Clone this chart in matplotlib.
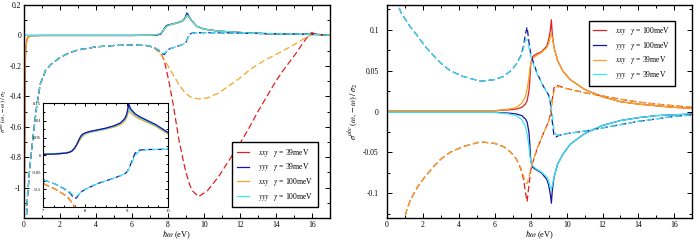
import matplotlib
matplotlib.use('Agg')
import matplotlib.pyplot as plt
from matplotlib.ticker import MultipleLocator

plt.rcParams['font.family'] = ['Liberation Serif', 'DejaVu Serif']
plt.rcParams['mathtext.fontset'] = 'stix'

# ---------------- left panel, main curves ----------------
xs = [0, 0.03, 0.05, 0.08, 0.1, 0.15, 0.2, 0.3, 0.45, 1, 3, 6, 7, 7.4, 7.6, 7.7, 7.8, 7.9,
      8.0, 8.2, 8.5, 8.8, 8.95, 9.05, 9.15, 9.3, 9.6, 10, 10.7, 11.5, 12.5, 14, 15.5, 15.9,
      16.0, 16.1, 16.4, 17]
xxy39_re = [-1.4, -0.9, -0.4, -0.15, -0.08, -0.03, -0.015, -0.006, -0.002, 0, 0, 0, 0.001, 0.003,
            0.01, 0.025, 0.045, 0.062, 0.068, 0.074, 0.082, 0.095, 0.112, 0.14, 0.125, 0.098,
            0.06, 0.042, 0.03, 0.023, 0.016, 0.01, 0.007, 0.012, 0.02, 0.012, 0.005, 0.003]
yyy39_re = [0, 0, 0, 0, 0, 0, 0, 0, 0, 0, 0, 0, 0.001, 0.003, 0.01, 0.025, 0.045, 0.062,
            0.068, 0.074, 0.082, 0.095, 0.115, 0.148, 0.13, 0.1, 0.06, 0.042, 0.03, 0.023,
            0.016, 0.01, 0.007, 0.01, 0.016, 0.01, 0.005, 0.003]
xxy100_re = [-1.4, -0.8, -0.35, -0.13, -0.08, -0.04, -0.02, -0.008, -0.002, 0, 0, 0, 0.002,
             0.006, 0.015, 0.025, 0.04, 0.055, 0.063, 0.072, 0.08, 0.092, 0.108, 0.128, 0.122,
             0.098, 0.06, 0.042, 0.03, 0.023, 0.016, 0.01, 0.007, 0.01, 0.015, 0.01, 0.005, 0.003]
yyy100_re = [0, 0, 0, 0, 0, 0, 0, 0, 0, 0, 0, 0, 0.002, 0.006, 0.015, 0.025, 0.042, 0.057,
             0.065, 0.073, 0.081, 0.094, 0.11, 0.135, 0.126, 0.1, 0.06, 0.042, 0.03, 0.023,
             0.016, 0.01, 0.007, 0.01, 0.015, 0.01, 0.005, 0.003]

xd = [0.1, 0.13, 0.2, 0.3, 0.4, 0.55, 0.7, 0.9, 1.2, 1.5, 2, 2.5, 3, 4, 5, 6, 6.8, 7.2, 7.5,
      7.7, 7.8, 7.9, 8.05, 8.3, 8.6, 8.9, 9.0, 9.1, 9.2, 9.35, 9.7, 10.2, 10.8, 11.4, 12, 12.5,
      13, 13.5, 14, 14.4, 15.1, 15.5, 15.75, 16, 16.5, 17]
yyy39_im = [-1.4, -1.2, -1.05, -0.9, -0.78, -0.62, -0.47, -0.32, -0.23, -0.19, -0.145, -0.115,
            -0.095, -0.075, -0.066, -0.063, -0.066, -0.077, -0.098, -0.12, -0.126, -0.108,
            -0.09, -0.08, -0.068, -0.055, -0.045, -0.015, 0.008, 0.016, 0.018, 0.018, 0.017,
            0.016, 0.015, 0.014, 0.013, 0.012, 0.011, 0.01, 0.009, 0.008, 0.008, 0.007, 0.004, 0.002]
yyy100_im = [-1.4, -1.2, -1.05, -0.9, -0.78, -0.62, -0.47, -0.32, -0.23, -0.19, -0.145, -0.115,
             -0.095, -0.075, -0.066, -0.063, -0.066, -0.077, -0.096, -0.114, -0.118, -0.106,
             -0.09, -0.08, -0.068, -0.055, -0.045, -0.018, 0.004, 0.014, 0.017, 0.018, 0.017,
             0.016, 0.015, 0.014, 0.013, 0.012, 0.011, 0.01, 0.009, 0.008, 0.008, 0.007, 0.004, 0.002]
xxy39_im = [-1.4, -1.2, -1.05, -0.9, -0.78, -0.62, -0.47, -0.32, -0.23, -0.19, -0.145, -0.115,
            -0.095, -0.075, -0.066, -0.063, -0.066, -0.078, -0.1, -0.14, -0.17, -0.22, -0.3,
            -0.46, -0.68, -0.85, -0.9, -0.94, -0.98, -1.02, -1.06, -1.02, -0.93, -0.82, -0.71,
            -0.61, -0.5, -0.4, -0.3, -0.23, -0.12, -0.05, -0.01, 0.015, 0.006, 0.003]
xxy100_im = [-1.4, -1.2, -1.05, -0.9, -0.78, -0.62, -0.47, -0.32, -0.23, -0.19, -0.145, -0.115,
             -0.095, -0.075, -0.066, -0.063, -0.066, -0.08, -0.11, -0.14, -0.16, -0.18, -0.21,
             -0.26, -0.32, -0.37, -0.38, -0.39, -0.4, -0.41, -0.417, -0.41, -0.38, -0.33, -0.28,
             -0.23, -0.19, -0.155, -0.125, -0.1, -0.055, -0.025, -0.01, 0.005, 0.004, 0.002]

# ---------------- left panel, inset (7-10 eV) ----------------
xi = [7.0, 7.3, 7.5, 7.6, 7.65, 7.7, 7.75, 7.8, 7.85, 7.9, 7.95, 8.0, 8.1, 8.3, 8.5, 8.7,
      8.85, 8.95, 9.0, 9.05, 9.1, 9.2, 9.3, 9.5, 9.7, 10.0]
ins_xxy39_re = [0.002, 0.003, 0.005, 0.007, 0.009, 0.013, 0.02, 0.03, 0.043, 0.054, 0.06, 0.063,
                0.067, 0.072, 0.077, 0.084, 0.092, 0.103, 0.115, 0.141, 0.13, 0.118, 0.11,
                0.098, 0.086, 0.063]
ins_yyy39_re = [0.002, 0.003, 0.005, 0.007, 0.009, 0.013, 0.02, 0.03, 0.043, 0.055, 0.061,
                0.064, 0.068, 0.073, 0.078, 0.085, 0.093, 0.105, 0.118, 0.148, 0.133, 0.12,
                0.112, 0.1, 0.088, 0.065]
ins_xxy100_re = [0.002, 0.004, 0.006, 0.008, 0.01, 0.014, 0.02, 0.028, 0.038, 0.048, 0.055,
                 0.06, 0.065, 0.07, 0.075, 0.081, 0.088, 0.098, 0.108, 0.129, 0.122, 0.112,
                 0.105, 0.094, 0.083, 0.06]
ins_yyy100_re = [0.002, 0.004, 0.006, 0.008, 0.01, 0.014, 0.021, 0.03, 0.041, 0.051, 0.058,
                 0.062, 0.066, 0.071, 0.076, 0.083, 0.091, 0.102, 0.113, 0.136, 0.128, 0.117,
                 0.109, 0.097, 0.086, 0.063]
ins_yyy39_im = [-0.072, -0.085, -0.098, -0.106, -0.112, -0.12, -0.126, -0.124, -0.115, -0.108,
                -0.104, -0.1, -0.094, -0.083, -0.075, -0.067, -0.06, -0.055, -0.05, -0.04,
                -0.025, 0.005, 0.014, 0.016, 0.016, 0.017]
ins_yyy100_im = [-0.072, -0.085, -0.097, -0.104, -0.109, -0.115, -0.119, -0.119, -0.114, -0.108,
                 -0.104, -0.1, -0.094, -0.083, -0.075, -0.067, -0.06, -0.055, -0.05, -0.042,
                 -0.03, -0.002, 0.011, 0.015, 0.016, 0.017]
ins_xxy39_im = [-0.083, -0.1, -0.115, -0.125, -0.132, -0.14, -0.152, -0.17, -0.19, -0.22,
                -0.26, -0.3, -0.38, -0.5, -0.6, -0.7, -0.8, -0.86, -0.9, -0.92, -0.94, -0.98,
                -1.0, -1.03, -1.05, -1.06]
ins_xxy100_im = [-0.083, -0.1, -0.115, -0.125, -0.132, -0.14, -0.148, -0.16, -0.17, -0.18,
                 -0.19, -0.2, -0.22, -0.26, -0.3, -0.34, -0.37, -0.38, -0.385, -0.39, -0.39,
                 -0.4, -0.405, -0.41, -0.415, -0.417]

# ---------------- right panel ----------------
xr = [0, 2, 4, 6, 6.8, 7.2, 7.5, 7.7, 7.8, 7.9, 7.95, 8.0, 8.1, 8.3, 8.6, 8.9, 9.0, 9.1, 9.15,
      9.2, 9.3, 9.5, 9.8, 10.2, 11, 12, 13, 14, 15, 16, 17]
r_xxy100 = [0.001, 0.001, 0.001, 0.001, 0.002, 0.003, 0.005, 0.009, 0.013, 0.025, 0.038, 0.058,
            0.067, 0.07, 0.073, 0.08, 0.088, 0.1, 0.112, 0.095, 0.078, 0.062, 0.049, 0.039,
            0.027, 0.018, 0.012, 0.009, 0.007, 0.005, 0.004]
r_xxy39 = [0.001, 0.001, 0.001, 0.001, 0.003, 0.005, 0.01, 0.018, 0.027, 0.042, 0.052, 0.058,
           0.064, 0.068, 0.072, 0.078, 0.083, 0.092, 0.095, 0.09, 0.078, 0.062, 0.049, 0.039,
           0.027, 0.018, 0.012, 0.009, 0.007, 0.005, 0.004]
r_yyy100 = [-0.001, -0.001, -0.001, -0.001, -0.002, -0.003, -0.005, -0.009, -0.013, -0.025,
            -0.04, -0.06, -0.068, -0.071, -0.075, -0.083, -0.09, -0.102, -0.112, -0.097, -0.08,
            -0.064, -0.052, -0.04, -0.027, -0.017, -0.011, -0.0075, -0.005, -0.004, -0.003]
r_yyy39 = [-0.001, -0.001, -0.001, -0.001, -0.003, -0.005, -0.01, -0.018, -0.027, -0.043,
           -0.053, -0.06, -0.066, -0.07, -0.074, -0.08, -0.085, -0.093, -0.095, -0.09, -0.08,
           -0.064, -0.052, -0.04, -0.027, -0.017, -0.011, -0.0075, -0.005, -0.004, -0.003]

xrd = [0.3, 0.56, 0.8, 1.0, 1.1, 1.3, 1.67, 2.1, 2.6, 3.0, 3.5, 4.2, 5.2, 6.0, 6.5, 6.9, 7.2,
       7.45, 7.6, 7.7, 7.8, 7.9, 8.0, 8.1, 8.35, 8.7, 9.0, 9.1, 9.2, 9.3, 9.4, 9.6, 10, 11, 12,
       13, 14, 15, 16, 17]
rd_yyy100 = [0.2, 0.132, 0.12, 0.113, 0.11, 0.103, 0.093, 0.08, 0.068, 0.059, 0.05, 0.043,
             0.037, 0.039, 0.043, 0.05, 0.058, 0.068, 0.08, 0.094, 0.103, 0.085, 0.07, 0.063,
             0.047, 0.031, 0.02, 0.01, -0.012, -0.03, -0.031, -0.029, -0.027, -0.024, -0.02,
             -0.016, -0.012, -0.009, -0.006, -0.004]
rd_yyy39 = [0.2, 0.132, 0.12, 0.113, 0.11, 0.103, 0.093, 0.08, 0.068, 0.059, 0.05, 0.043,
            0.037, 0.039, 0.043, 0.05, 0.058, 0.067, 0.077, 0.087, 0.088, 0.078, 0.068, 0.06,
            0.046, 0.031, 0.02, 0.012, -0.005, -0.022, -0.028, -0.029, -0.027, -0.024, -0.02,
            -0.016, -0.012, -0.009, -0.006, -0.004]
rd_xxy100 = [-0.3, -0.2, -0.155, -0.128, -0.12, -0.108, -0.093, -0.08, -0.067, -0.058, -0.05,
             -0.043, -0.037, -0.039, -0.043, -0.05, -0.058, -0.07, -0.083, -0.098, -0.11,
             -0.09, -0.072, -0.063, -0.046, -0.027, -0.012, -0.003, 0.015, 0.029, 0.032, 0.031,
             0.028, 0.023, 0.019, 0.015, 0.0115, 0.009, 0.007, 0.005]
rd_xxy39 = [-0.3, -0.2, -0.155, -0.128, -0.12, -0.108, -0.093, -0.08, -0.067, -0.058, -0.05,
            -0.043, -0.037, -0.039, -0.043, -0.05, -0.058, -0.069, -0.079, -0.087, -0.088,
            -0.08, -0.07, -0.062, -0.045, -0.027, -0.012, -0.005, 0.01, 0.025, 0.03, 0.03,
            0.028, 0.023, 0.019, 0.015, 0.0115, 0.009, 0.007, 0.005]

red = '#e02020'
blue = '#1414a0'
orange = '#f5a623'
cyan = '#3de6f0'
dash = (0, (5, 2.5))
lw = 0.9
fs = 5.5
ylab = r'$\sigma^{abc}\,(\omega,-\omega)\;/\;\sigma_2$'


def style_axes(ax, size, pad):
    ax.tick_params(which='both', direction='in', top=True, right=True, labelsize=size, pad=pad,
                   width=0.7)
    ax.tick_params(which='major', length=3.5)
    ax.tick_params(which='minor', length=2)
    for s in ax.spines.values():
        s.set_linewidth(1.0)


fig = plt.figure(figsize=(7, 2.42), dpi=100)

# left
ax1 = fig.add_axes([0.0343, 0.0992, 0.437, 0.880])
ax1.plot(xs, xxy39_re, color=red, lw=lw, label=r'$xxy\quad\gamma$ = 39meV')
ax1.plot(xs, yyy39_re, color=blue, lw=lw, label=r'$yyy\quad\gamma$ = 39meV')
ax1.plot(xs, xxy100_re, color=orange, lw=lw, label=r'$xxy\quad\gamma$ = 100meV')
ax1.plot(xs, yyy100_re, color=cyan, lw=lw, label=r'$yyy\quad\gamma$ = 100meV')
ax1.plot(xd, xxy39_im, color=red, lw=lw, ls=dash)
ax1.plot(xd, xxy100_im, color=orange, lw=lw, ls=dash)
ax1.plot(xd, yyy39_im, color=blue, lw=lw, ls=dash)
ax1.plot(xd, yyy100_im, color=cyan, lw=lw, ls=dash)
ax1.set_xlim(0, 17)
ax1.set_ylim(-1.2, 0.2)
ax1.xaxis.set_major_locator(MultipleLocator(2))
ax1.xaxis.set_minor_locator(MultipleLocator(1))
ax1.set_yticks([0.2, 0, -0.2, -0.4, -0.6, -0.8, -1])
ax1.set_yticklabels(['0.2', '0', '-0.2', '-0.4', '-0.6', '-0.8', '-1'])
ax1.yaxis.set_minor_locator(MultipleLocator(0.1))
style_axes(ax1, fs, 2)
ax1.set_xlabel(r'$\hbar\omega$ (eV)', fontsize=6)
ax1.xaxis.set_label_coords(0.5, -0.05)
ax1.set_ylabel(ylab, fontsize=4.5)
ax1.yaxis.set_label_coords(-0.05, 0.5)
leg = ax1.legend(loc='lower right', bbox_to_anchor=(0.974, 0.033), fontsize=fs, fancybox=False,
                 edgecolor='black', framealpha=1, handlelength=1.6, borderpad=0.6,
                 labelspacing=0.35, handletextpad=1.2)
leg.get_frame().set_linewidth(1.0)

# inset
axi = fig.add_axes([0.0619, 0.146, 0.1786, 0.427])
axi.plot(xi, ins_xxy39_re, color=red, lw=lw)
axi.plot(xi, ins_xxy100_re, color=orange, lw=lw)
axi.plot(xi, ins_yyy100_re, color=cyan, lw=lw)
axi.plot(xi, ins_yyy39_re, color=blue, lw=lw)
axi.plot(xi, ins_xxy39_im, color=red, lw=lw, ls=dash)
axi.plot(xi, ins_xxy100_im, color=orange, lw=lw, ls=dash)
axi.plot(xi, ins_yyy39_im, color=blue, lw=lw, ls=dash)
axi.plot(xi, ins_yyy100_im, color=cyan, lw=lw, ls=dash)
axi.set_xlim(7, 10)
axi.set_ylim(-0.15, 0.15)
axi.xaxis.set_major_locator(MultipleLocator(1))
axi.xaxis.set_minor_locator(MultipleLocator(0.25))
axi.set_yticks([-0.1, -0.05, 0, 0.05, 0.1, 0.15])
axi.set_yticklabels(['-0.1', '-0.05', '0', '0.05', '0.1', '0.15'])
axi.yaxis.set_minor_locator(MultipleLocator(0.025))
style_axes(axi, 3.3, 1.5)
axi.tick_params(which='major', length=2.5)
axi.tick_params(which='minor', length=1.5)
for s in axi.spines.values():
    s.set_linewidth(0.8)

# right
ax2 = fig.add_axes([0.553, 0.0992, 0.436, 0.880])
ax2.plot(xr, r_xxy100, color=red, lw=lw, label=r'$xxy\quad\gamma$ = 100meV')
ax2.plot(xr, r_yyy100, color=blue, lw=lw, label=r'$yyy\quad\gamma$ = 100meV')
ax2.plot(xr, r_xxy39, color=orange, lw=lw, label=r'$xxy\quad\gamma$ = 39meV')
ax2.plot(xr, r_yyy39, color=cyan, lw=lw, label=r'$yyy\quad\gamma$ = 39meV')
ax2.plot(xrd, rd_xxy100, color=red, lw=lw, ls=dash)
ax2.plot(xrd, rd_yyy100, color=blue, lw=lw, ls=dash)
ax2.plot(xrd, rd_xxy39, color=orange, lw=lw, ls=dash)
ax2.plot(xrd, rd_yyy39, color=cyan, lw=lw, ls=dash)
ax2.set_xlim(0, 17)
ax2.set_ylim(-0.13, 0.13)
ax2.xaxis.set_major_locator(MultipleLocator(2))
ax2.xaxis.set_minor_locator(MultipleLocator(1))
ax2.set_yticks([-0.1, -0.05, 0, 0.05, 0.1])
ax2.set_yticklabels(['-0.1', '-0.05', '0', '0.05', '0.1'])
ax2.yaxis.set_minor_locator(MultipleLocator(0.025))
style_axes(ax2, fs, 2)
ax2.tick_params(axis='y', pad=6)
ax2.set_xlabel(r'$\hbar\omega$ (eV)', fontsize=6)
ax2.xaxis.set_label_coords(0.5, -0.05)
ax2.set_ylabel(ylab, fontsize=6)
ax2.yaxis.set_label_coords(-0.089, 0.5)
leg2 = ax2.legend(loc='upper right', bbox_to_anchor=(0.955, 0.945), fontsize=fs, fancybox=False,
                  edgecolor='black', framealpha=1, handlelength=1.6, borderpad=0.6,
                  labelspacing=0.35, handletextpad=1.2)
leg2.get_frame().set_linewidth(1.0)

fig.savefig('out.png', dpi=100)
